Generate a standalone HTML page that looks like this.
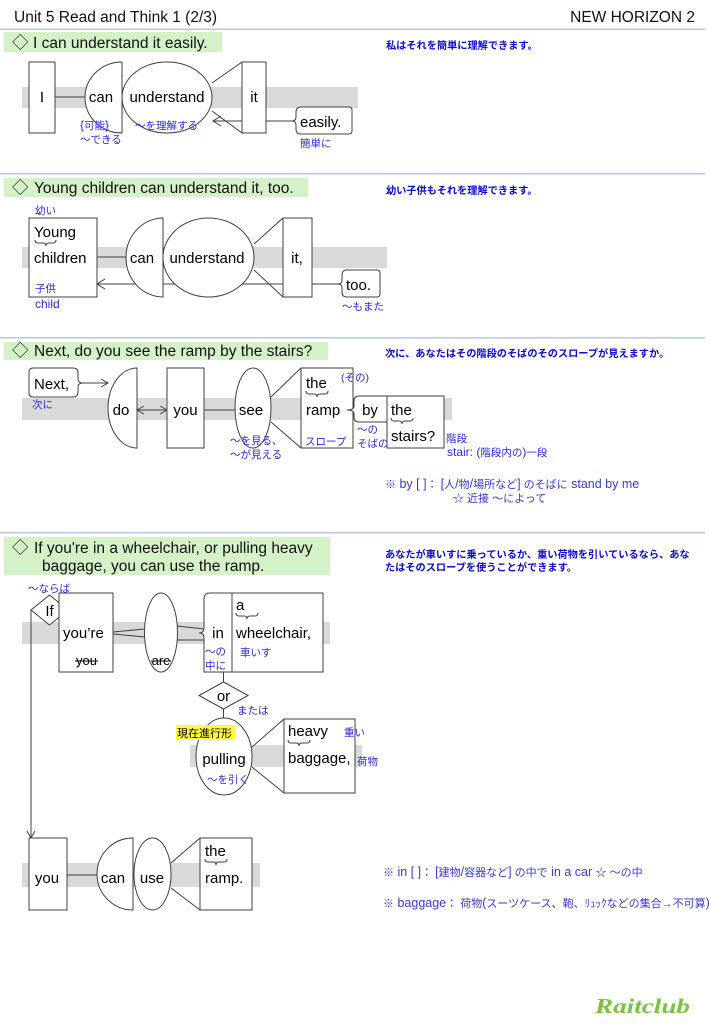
<!DOCTYPE html>
<html><head><meta charset="utf-8">
<style>
html,body{margin:0;padding:0;background:#fff;}
svg{display:block;}
text{font-family:"Liberation Sans","Noto Sans CJK JP",sans-serif;}
.w{font-size:15px;fill:#000;}
.h{font-size:15.5px;fill:#111;}
.d{font-size:16.5px;fill:#222;font-family:"Noto Sans CJK JP","DejaVu Sans",sans-serif;}
.b{font-size:10.5px;fill:#2a2adc;}
.t{font-size:10.2px;fill:#0a0ad0;font-weight:bold;}
.n{font-size:11px;fill:#3a3ad0;}
.L{font-size:12.5px;}
.Lb{font-size:12px;}
.s{fill:#fff;stroke:#404040;stroke-width:1;}
.l{stroke:#404040;stroke-width:1;fill:none;}
.g{fill:#d9d9d9;}
.gr{fill:#d4f1c7;}
.dv{fill:#b8c8e0;}
</style></head><body>
<svg width="709" height="1024" viewBox="0 0 709 1024" xmlns="http://www.w3.org/2000/svg">

<!-- Header -->
<text x="14" y="22" class="h">Unit 5 Read and Think 1 (2/3)</text>
<text x="695" y="22" class="h" text-anchor="end">NEW HORIZON 2</text>
<rect x="0" y="28.5" width="705" height="1.5" class="dv"/>

<!-- ================= Section 1 ================= -->
<rect x="4" y="32" width="218" height="20" class="gr"/>
<text x="12" y="48" class="d">◇</text>
<text x="33" y="48" class="h">I can understand it easily.</text>
<text x="386" y="49" class="t">私はそれを簡単に理解できます。</text>

<rect x="22" y="87" width="336" height="21" class="g"/>
<line x1="55" y1="97" x2="86" y2="97" class="l"/>
<line x1="213" y1="121" x2="296" y2="121" class="l"/>
<polyline points="221,116 213,121 221,126" class="l"/>
<rect x="29" y="62" width="26" height="71" class="s"/>
<path d="M122,62 A37,35.5 0 0 0 122,133 Z" class="s"/>
<ellipse cx="167" cy="97.5" rx="45" ry="35.5" class="s"/>
<line x1="212" y1="83" x2="242" y2="62" class="l"/>
<line x1="212" y1="111" x2="242" y2="133" class="l"/>
<rect x="242" y="62" width="24" height="71" class="s"/>
<path d="M301,107 L349,107 Q352,107 352,110 L352,131 Q352,134 349,134 L301,134 Q296,134 296,129 L296,125 Q296,121 292,121 Q296,121 296,117 L296,112 Q296,107 301,107 Z" class="s"/>
<text x="42" y="102" class="w" text-anchor="middle">I</text>
<text x="101" y="102" class="w" text-anchor="middle">can</text>
<text x="167" y="102" class="w" text-anchor="middle">understand</text>
<text x="254" y="102" class="w" text-anchor="middle">it</text>
<text x="300" y="127" class="w">easily.</text>
<text x="80" y="129" class="b"><tspan class="Lb">{</tspan>可能<tspan class="Lb">}</tspan></text>
<text x="80" y="143" class="b">～できる</text>
<text x="135" y="129" class="b">～を理解する</text>
<text x="300" y="147" class="b">簡単に</text>

<rect x="0" y="173" width="705" height="1.5" class="dv"/>

<!-- ================= Section 2 ================= -->
<rect x="4" y="178" width="304" height="19" class="gr"/>
<text x="12" y="193" class="d">◇</text>
<text x="34" y="193" class="h">Young children can understand it, too.</text>
<text x="386" y="194" class="t">幼い子供もそれを理解できます。</text>

<rect x="22" y="247" width="365" height="21" class="g"/>
<line x1="97" y1="257" x2="127" y2="257" class="l"/>
<line x1="97" y1="284" x2="342" y2="284" class="l"/>
<polyline points="105,279 97,284 105,289" class="l"/>
<rect x="29" y="218" width="68" height="79" class="s"/>
<path d="M163,218 A37,39.5 0 0 0 163,297 Z" class="s"/>
<ellipse cx="208.5" cy="257.5" rx="45.5" ry="39.5" class="s"/>
<line x1="254" y1="244" x2="283" y2="218" class="l"/>
<line x1="254" y1="270" x2="283" y2="297" class="l"/>
<rect x="283" y="218" width="29" height="79" class="s"/>
<path d="M347,270 L377,270 Q380,270 380,273 L380,294 Q380,297 377,297 L347,297 Q342,297 342,292 L342,288 Q342,284 338,284 Q342,284 342,280 L342,275 Q342,270 347,270 Z" class="s"/>
<text x="34" y="237" class="w">Young</text>
<path d="M35,240 Q35,243 38,243 L43,243 Q46,243 46,246 Q46,243 49,243 L53,243 Q56,243 56,240" class="l"/>
<text x="34" y="263" class="w">children</text>
<text x="142" y="263" class="w" text-anchor="middle">can</text>
<text x="207" y="263" class="w" text-anchor="middle">understand</text>
<text x="297" y="263" class="w" text-anchor="middle">it,</text>
<text x="346" y="290" class="w">too.</text>
<text x="35" y="214" class="b">幼い</text>
<text x="35" y="292" class="b">子供</text>
<text x="35" y="308" class="b" style="font-size:12px">child</text>
<text x="342" y="310" class="b">～もまた</text>

<rect x="0" y="337" width="705" height="1.5" class="dv"/>

<!-- ================= Section 3 ================= -->
<rect x="4" y="342" width="324" height="18" class="gr"/>
<text x="12" y="356" class="d">◇</text>
<text x="34" y="356" class="h">Next, do you see the ramp by the stairs?</text>
<text x="385" y="357" class="t">次に、あなたはその階段のそばのそのスロープが見えますか。</text>

<rect x="22" y="398" width="430" height="22" class="g"/>
<path d="M33,368 L73,368 Q78,368 78,373 L78,379 Q78,383 83,383 Q78,383 78,387 L78,392 Q78,397 73,397 L33,397 Q29,397 29,393 L29,372 Q29,368 33,368 Z" class="s"/>
<line x1="83" y1="383" x2="108" y2="383" class="l"/>
<polyline points="101,379 108,383 101,387" class="l"/>
<path d="M137,368 A29,40 0 0 0 137,448 Z" class="s"/>
<line x1="137" y1="410" x2="167" y2="410" class="l"/>
<polyline points="144,406 137,410 144,414" class="l"/>
<polyline points="160,406 167,410 160,414" class="l"/>
<rect x="167" y="368" width="37" height="80" class="s"/>
<line x1="204" y1="410" x2="235" y2="410" class="l"/>
<ellipse cx="253" cy="408" rx="18" ry="40" class="s"/>
<line x1="271" y1="397" x2="301" y2="368" class="l"/>
<line x1="271" y1="422" x2="301" y2="448" class="l"/>
<rect x="301" y="368" width="52" height="80" class="s"/>
<rect x="387" y="396" width="57" height="52" class="s"/>
<path d="M359,396 L387,396 L387,422 L359,422 Q354,422 354,417 L354,414 Q354,410 347,410 Q354,410 354,406 L354,401 Q354,396 359,396 Z" class="s"/>
<text x="34" y="389" class="w">Next,</text>
<text x="121" y="415" class="w" text-anchor="middle">do</text>
<text x="185.5" y="415" class="w" text-anchor="middle">you</text>
<text x="251" y="415" class="w" text-anchor="middle">see</text>
<text x="306" y="388" class="w">the</text>
<path d="M306,391 Q306,394 309,394 L314,394 Q317,394 317,397 Q317,394 320,394 L325,394 Q328,394 328,391" class="l"/>
<text x="306" y="415" class="w">ramp</text>
<text x="370" y="415" class="w" text-anchor="middle">by</text>
<text x="391" y="415" class="w">the</text>
<path d="M391,418 Q391,421 394,421 L399,421 Q402,421 402,424 Q402,421 405,421 L410,421 Q413,421 413,418" class="l"/>
<text x="391" y="441" class="w">stairs?</text>
<text x="32" y="408" class="b">次に</text>
<text x="341" y="381" class="b">(その)</text>
<text x="305" y="445" class="b">スロープ</text>
<text x="357" y="433" class="b">～の</text>
<text x="357" y="447" class="b">そばの</text>
<text x="230" y="444" class="b">～を見る、</text>
<text x="230" y="458" class="b">～が見える</text>
<text x="446" y="442" class="b">階段</text>
<text x="447" y="456" class="b"><tspan class="Lb">stair: (</tspan>階段内の<tspan class="Lb">)</tspan>一段</text>
<text x="385" y="488" class="n">※<tspan class="L"> by [ ]</tspan>： <tspan class="L">[</tspan>人<tspan class="L">/</tspan>物<tspan class="L">/</tspan>場所など<tspan class="L">]</tspan> のそばに<tspan class="L"> stand by me</tspan></text>
<text x="453" y="502" class="n">☆ 近接 ～によって</text>

<rect x="0" y="532" width="705" height="1.5" class="dv"/>

<!-- ================= Section 4 ================= -->
<rect x="4" y="537" width="326" height="38" class="gr"/>
<text x="12" y="553" class="d">◇</text>
<text x="34" y="553" class="h">If you're in a wheelchair, or pulling heavy</text>
<text x="42" y="571" class="h">baggage, you can use the ramp.</text>
<text x="385" y="558" class="t">あなたが車いすに乗っているか、重い荷物を引いているなら、あな</text>
<text x="385" y="571" class="t">たはそのスロープを使うことができます。</text>

<rect x="22" y="622" width="308" height="22" class="g"/>
<rect x="190" y="745" width="172" height="22" class="g"/>
<rect x="22" y="863" width="238" height="24" class="g"/>

<line x1="31" y1="610" x2="31" y2="838" class="l"/>
<polyline points="27,831 31,838 35,831" class="l"/>
<polygon points="49.5,595 68,610 49.5,625 31,610" class="s"/>
<rect x="59" y="593" width="54" height="79" class="s"/>
<line x1="113" y1="632" x2="145" y2="629" class="l"/>
<line x1="113" y1="634" x2="145" y2="637" class="l"/>
<ellipse cx="161" cy="632.5" rx="16.5" ry="39.5" class="s"/>
<line x1="177" y1="626" x2="204" y2="629" class="l"/>
<line x1="177" y1="640" x2="204" y2="640" class="l"/>
<path d="M210,593 L323,593 L323,672 L204,672 L204,638 Q204,633 199,633 Q204,633 204,628 L204,599 Q204,593 210,593 Z" class="s"/>
<line x1="232" y1="593" x2="232" y2="672" class="l"/>
<line x1="223.5" y1="672" x2="223.5" y2="682" class="l"/>
<polygon points="223.5,682 248,695.5 223.5,709 199,695.5" class="s"/>
<line x1="223.5" y1="709" x2="223.5" y2="718" class="l"/>
<ellipse cx="224" cy="756.5" rx="28" ry="38.5" class="s"/>
<line x1="252" y1="747" x2="284" y2="719" class="l"/>
<line x1="252" y1="767" x2="284" y2="793" class="l"/>
<rect x="284" y="719" width="71" height="74" class="s"/>
<rect x="176" y="725" width="59" height="15" fill="#ffff3c"/>

<text x="49.5" y="616" class="w" text-anchor="middle">If</text>
<text x="63" y="638" class="w">you’re</text>
<text x="86.5" y="665" class="w" text-anchor="middle" style="font-size:13px">you</text>
<line x1="75" y1="661" x2="98" y2="661" stroke="#000" stroke-width="1"/>
<text x="161" y="665" class="w" text-anchor="middle" style="font-size:13px">are</text>
<line x1="151" y1="661" x2="171" y2="661" stroke="#000" stroke-width="1"/>
<text x="218" y="638" class="w" text-anchor="middle">in</text>
<text x="236" y="610" class="w">a</text>
<path d="M236,613 Q236,616 239,616 L244,616 Q247,616 247,619 Q247,616 250,616 L255,616 Q258,616 258,613" class="l"/>
<text x="236" y="638" class="w">wheelchair,</text>
<text x="223.5" y="701" class="w" text-anchor="middle">or</text>
<text x="224" y="764" class="w" text-anchor="middle">pulling</text>
<text x="288" y="736" class="w">heavy</text>
<path d="M288,740 Q288,743 291,743 L296,743 Q299,743 299,746 Q299,743 302,743 L307,743 Q310,743 310,740" class="l"/>
<text x="288" y="763" class="w">baggage,</text>
<text x="177" y="737" style="font-size:11px;fill:#000">現在進行形</text>

<text x="28" y="592" class="b">～ならば</text>
<text x="205" y="655" class="b">～の</text>
<text x="205" y="669" class="b">中に</text>
<text x="240" y="656" class="b">車いす</text>
<text x="237" y="714" class="b">または</text>
<text x="207" y="783" class="b">～を引く</text>
<text x="344" y="736" class="b">重い</text>
<text x="357" y="765" class="b">荷物</text>

<rect x="29" y="838" width="38" height="72" class="s"/>
<line x1="67" y1="875" x2="97" y2="875" class="l"/>
<path d="M133,838 A36,36 0 0 0 133,910 Z" class="s"/>
<ellipse cx="152.5" cy="874" rx="18.5" ry="36" class="s"/>
<line x1="171" y1="863" x2="200" y2="838" class="l"/>
<line x1="171" y1="888" x2="200" y2="910" class="l"/>
<rect x="200" y="838" width="52" height="72" class="s"/>
<text x="47" y="883" class="w" text-anchor="middle">you</text>
<text x="113" y="883" class="w" text-anchor="middle">can</text>
<text x="152" y="883" class="w" text-anchor="middle">use</text>
<text x="205" y="856" class="w">the</text>
<path d="M205,859 Q205,862 208,862 L213,862 Q216,862 216,865 Q216,862 219,862 L224,862 Q227,862 227,859" class="l"/>
<text x="205" y="883" class="w">ramp.</text>

<text x="383" y="876" class="n">※<tspan class="L"> in [ ]</tspan>： <tspan class="L">[</tspan>建物<tspan class="L">/</tspan>容器など<tspan class="L">]</tspan> の中で<tspan class="L"> in a car  </tspan>☆ ～の中</text>
<text x="383" y="907" class="n">※<tspan class="L"> baggage</tspan>： 荷物<tspan class="L">(</tspan>スーツケース、鞄、ﾘｭｯｸなどの集合→不可算<tspan class="L">)</tspan></text>

<text x="595" y="1013" textLength="95" lengthAdjust="spacingAndGlyphs" style="font-family:'Liberation Serif',serif;font-style:italic;font-weight:bold;font-size:21px;fill:#7cc242">Raitclub</text>
</svg>
</body></html>
